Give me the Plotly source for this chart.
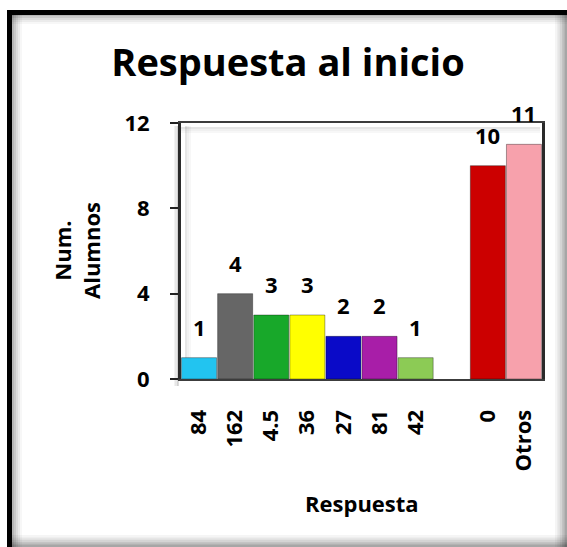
import plotly.graph_objects as go

# ---- data ----
categories = ["84", "162", "4.5", "36", "27", "81", "42", " ", "0", "Otros"]
values = [1, 4, 3, 3, 2, 2, 1, None, 10, 11]
bar_colors = ["#22C4F0", "#666666", "#18A82A", "#FFFF00", "#0A0AC8",
              "#A81EA8", "#8CCB55", "#FFFFFF", "#CC0000", "#F7A1AC"]
y_ticks = [0, 4, 8, 12]
title_text = "Respuesta al inicio"
x_title = "Respuesta"
y_title = "Num.<br>Alumnos"

W, H = 567, 547
L, R, T, B = 181, 542, 123, 379
FONT = "Open Sans"
FS = 22

def px(x):
    return (x - L) / (R - L)

def py(y):
    return (B - y) / (B - T)

fig = go.Figure()
fig.add_trace(go.Bar(
    x=categories, y=values,
    marker=dict(color=bar_colors, line=dict(color="rgba(0,0,0,0.35)", width=1)),
    cliponaxis=False, hoverinfo="x+y",
))

annotations = []
for i, v in enumerate(values):
    if v is None:
        continue
    # category axis: position i is the i-th category
    annotations.append(dict(x=i, y=v, xref="x", yref="y", text=str(v),
                            showarrow=False, xanchor="center", yanchor="bottom",
                            yshift=14,
                            font=dict(family=FONT, size=FS, color="black", weight="bold")))

shapes = []
# inner shadow of outer frame
for i, op in enumerate([0.04, 0.06, 0.08, 0.10, 0.12]):
    shapes.append(dict(type="rect", xref="paper", yref="paper",
                       x0=px(555 + i * 2.4), x1=px(570), y0=py(14), y1=py(560),
                       fillcolor=f"rgba(0,0,0,{op})", line=dict(width=0), layer="below"))
    shapes.append(dict(type="rect", xref="paper", yref="paper",
                       x0=px(12), x1=px(570), y0=py(535 + i * 2.4), y1=py(560),
                       fillcolor=f"rgba(0,0,0,{op})", line=dict(width=0), layer="below"))
    shapes.append(dict(type="rect", xref="paper", yref="paper",
                       x0=px(12), x1=px(12 + 10 - i * 2), y0=py(14), y1=py(560),
                       fillcolor=f"rgba(0,0,0,{op*0.8})", line=dict(width=0), layer="below"))
    shapes.append(dict(type="rect", xref="paper", yref="paper",
                       x0=px(12), x1=px(570), y0=py(14 + 10 - i * 2), y1=py(14),
                       fillcolor=f"rgba(0,0,0,{op*0.8})", line=dict(width=0), layer="below"))
# outer black frame
shapes.append(dict(type="rect", xref="paper", yref="paper",
                   x0=px(9.5), x1=px(600), y0=py(12.5), y1=py(600),
                   line=dict(color="black", width=5), layer="above"))
# shadow next to plot frame
for i, op in enumerate([0.05, 0.09, 0.14]):
    shapes.append(dict(type="line", xref="paper", yref="paper",
                       x0=px(175 + i * 1.5), x1=px(175 + i * 1.5), y0=py(126), y1=py(386),
                       line=dict(color=f"rgba(0,0,0,{op})", width=2), layer="below"))
# inner shading of plot area
for i, op in enumerate([0.03, 0.06, 0.10]):
    shapes.append(dict(type="line", xref="paper", yref="paper",
                       x0=px(184 + 6 - i * 2), x1=px(184 + 6 - i * 2), y0=py(126), y1=py(379),
                       line=dict(color=f"rgba(0,0,0,{op})", width=2), layer="below"))
    shapes.append(dict(type="line", xref="paper", yref="paper",
                       x0=px(181), x1=px(540), y0=py(126 + 6 - i * 2), y1=py(126 + 6 - i * 2),
                       line=dict(color=f"rgba(0,0,0,{op})", width=2), layer="below"))

annotations += [
    dict(text=x_title, xref="paper", yref="paper", x=0.5, y=py(503),
         showarrow=False, xanchor="center", yanchor="middle",
         font=dict(family=FONT, size=FS, color="black", weight="bold")),
    dict(text=y_title, xref="paper", yref="paper", x=px(76), y=0.5,
         showarrow=False, xanchor="center", yanchor="middle", textangle=-90,
         font=dict(family=FONT, size=FS, color="black", weight="bold")),
]

fig.update_layout(
    width=W, height=H,
    margin=dict(l=L, r=W - R, t=T, b=H - B, autoexpand=False),
    paper_bgcolor="white", plot_bgcolor="white",
    showlegend=False, bargap=0.03,
    font=dict(family=FONT, color="black"),
    title=dict(text=title_text, x=288 / W, xanchor="center", xref="container",
               y=1 - 63 / H, yanchor="middle", yref="container",
               font=dict(family=FONT, size=38, color="black", weight="bold")),
    xaxis=dict(type="category", categoryorder="array", categoryarray=categories,
               range=[-0.5, len(categories) - 0.5],
               tickangle=-90, ticks="", showgrid=False, ticklabelstandoff=20,
               tickfont=dict(family=FONT, size=FS, color="black", weight="bold"),
               showline=True, linecolor="#3c3c3c", linewidth=2, mirror=True),
    yaxis=dict(range=[0, 12], tickvals=y_ticks, showgrid=False, zeroline=False,
               ticks="outside", ticklen=8, tickwidth=2, tickcolor="#222",
               ticklabelstandoff=16,
               tickfont=dict(family=FONT, size=FS, color="black", weight="bold"),
               showline=True, linecolor="#2a2a2a", linewidth=3, mirror=True),
    shapes=shapes,
    annotations=annotations,
)

fig.write_html("out.html", config={"displayModeBar": False},
               post_script="document.body.style.margin='0';")
